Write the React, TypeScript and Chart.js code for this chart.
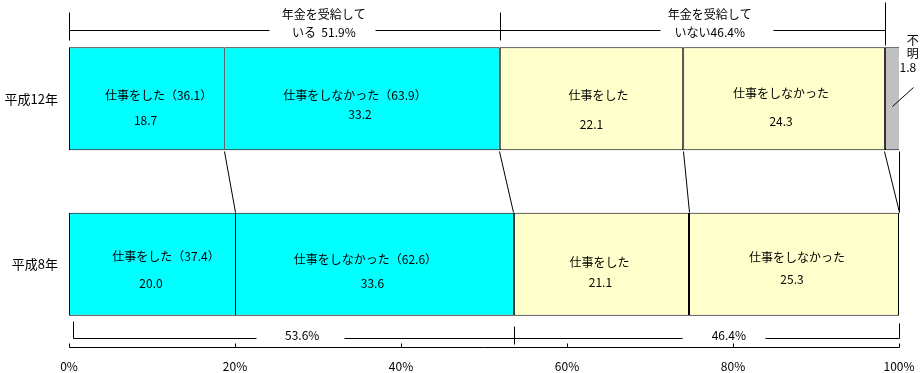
import React, { useEffect, useRef } from "react";
import { Chart, registerables } from "chart.js";

Chart.register(...registerables);

// ---- data ----
const categories = ["平成12年", "平成8年"];
const pensionWorked = [18.7, 20.0];
const pensionNotWorked = [33.2, 33.6];
const noPensionWorked = [22.1, 21.1];
const noPensionNotWorked = [24.3, 25.3];
const unknownShare = [1.8, 0];
const segmentLabels = [
  ["仕事をした（36.1）", "仕事をしなかった（63.9）", "仕事をした", "仕事をしなかった"],
  ["仕事をした（37.4）", "仕事をしなかった（62.6）", "仕事をした", "仕事をしなかった"],
];
const topGroupLabels = [
  ["年金を受給して", "いる  51.9%"],
  ["年金を受給して", "いない46.4%"],
];
const bottomGroupLabels = ["53.6%", "46.4%"];
const unknownLabels = ["不", "明", "1.8"];
const xTickValues = [0, 20, 40, 60, 80, 100];

const FONT = '"Noto Sans CJK JP", "Noto Sans", sans-serif';

const overlayPlugin = {
  id: "overlay",
  afterDatasetsDraw(chart: any) {
    const ctx = chart.ctx as CanvasRenderingContext2D;
    const xs = chart.scales.x;
    const area = chart.chartArea;
    const el = (ds: number, row: number) =>
      chart.getDatasetMeta(ds).data[row].getProps(["x", "y", "base", "height"], true);

    ctx.save();
    ctx.strokeStyle = "#000";
    ctx.fillStyle = "#000";
    ctx.lineWidth = 1;
    const line = (x1: number, y1: number, x2: number, y2: number) => {
      ctx.beginPath();
      ctx.moveTo(Math.round(x1) + 0.5, Math.round(y1) + 0.5);
      ctx.lineTo(Math.round(x2) + 0.5, Math.round(y2) + 0.5);
      ctx.stroke();
    };
    const text = (s: string, x: number, y: number, size = 12) => {
      ctx.font = `${size}px ${FONT}`;
      ctx.textAlign = "center";
      ctx.textBaseline = "middle";
      ctx.fillText(s, x, y);
    };

    const r0 = el(0, 0);
    const r1 = el(0, 1);
    const top0 = r0.y - r0.height / 2;
    const bot0 = r0.y + r0.height / 2;
    const top1 = r1.y - r1.height / 2;
    const bot1 = r1.y + r1.height / 2;

    // x axis line + inward ticks
    line(area.left, area.bottom, area.right, area.bottom);
    xTickValues.forEach((v) => {
      const px = xs.getPixelForValue(v);
      line(px, area.bottom - 4, px, area.bottom);
    });

    // connectors between the two bars
    const pairs: [number, number][] = [[0, 0], [1, 1], [2, 2], [3, 3], [4, 3]];
    pairs.forEach(([a, b]) => {
      const xa = el(a, 0).x;
      const xb = el(b, 1).x;
      line(xa - 0.5, bot0 + 1, xb - 0.5, top1 - 1);
    });

    // segment labels
    const labelOffsets = [
      [[12, -3, -1, 22], [-7, -3, -2, 16], [7, -3, 0, 26], [-3, -5, -3, 23]],
      [[14, -8, -1, 19], [-9, -5, -2, 19], [-2, -2, -1, 18], [3, -7, -2, 15]],
    ];
    [0, 1].forEach((row) => {
      for (let ds = 0; ds < 4; ds++) {
        const e = el(ds, row);
        const cx = (e.x + e.base) / 2;
        const o = labelOffsets[row][ds];
        const values = [pensionWorked, pensionNotWorked, noPensionWorked, noPensionNotWorked][ds];
        text(segmentLabels[row][ds], cx + o[0], e.y + o[1]);
        text(values[row].toFixed(1), cx + o[2], e.y + o[3]);
      }
    });

    // top bracket
    const by = top0 - 17;
    const xStart = el(0, 0).base;
    const xMid = el(1, 0).x;
    const xEnd = el(3, 0).x;
    line(xStart, top0 - 35, xStart, top0 - 7);
    line(xMid, top0 - 35, xMid, top0 - 7);
    line(xEnd, top0 - 45, xEnd, top0 - 2);
    const topCenters = [xs.getPixelForValue(30.7), xs.getPixelForValue(77.2)];
    line(xStart, by, topCenters[0] - 55, by);
    line(topCenters[0] + 51, by, topCenters[1] - 50, by);
    line(topCenters[1] + 63, by, xEnd, by);
    topGroupLabels.forEach((lines, i) => {
      text(lines[0], topCenters[i], top0 - 33);
      text(lines[1], topCenters[i], top0 - 15);
    });

    // bottom bracket
    const bby = bot1 + 22;
    const bStart = el(0, 1).base + 4;
    const bMid = el(1, 1).x;
    const bEnd = el(3, 1).x;
    line(bStart, bot1 + 5, bStart, bby);
    line(bMid, bot1 + 10, bMid, bby + 6);
    line(bEnd, bot1 + 7, bEnd, bby);
    const botCenters = [xs.getPixelForValue(28.1), xs.getPixelForValue(79.5)];
    line(bStart, bby, botCenters[0] - 46, bby);
    line(botCenters[0] + 42, bby, botCenters[1] - 47, bby);
    line(botCenters[1] + 36, bby, bEnd, bby);
    bottomGroupLabels.forEach((s, i) => text(s, botCenters[i], bby - 2));

    // unknown label
    const g = el(4, 0);
    text(unknownLabels[0], g.x + 13, top0 - 7);
    text(unknownLabels[1], g.x + 13, top0 + 6);
    text(unknownLabels[2], g.x + 8, top0 + 20);
    line(g.x + 13, top0 + 40, g.x - 8, top0 + 59);

    ctx.restore();
  },
};

export default function App() {
  const ref = useRef<HTMLCanvasElement>(null);
  useEffect(() => {
    if (!ref.current) return;
    const common = { borderColor: "#000", borderSkipped: false as const, barPercentage: 0.622, categoryPercentage: 1 };
    const chart = new Chart(ref.current, {
      type: "bar",
      data: {
        labels: categories,
        datasets: [
          { ...common, label: "受給・仕事をした", data: pensionWorked, backgroundColor: "#00FFFF", borderWidth: { left: 1, top: 1, bottom: 1, right: 0 } },
          { ...common, label: "受給・仕事をしなかった", data: pensionNotWorked, backgroundColor: "#00FFFF", borderWidth: { left: 1, top: 1, bottom: 1, right: 1 } },
          { ...common, label: "非受給・仕事をした", data: noPensionWorked, backgroundColor: "#FFFFCC", borderWidth: { left: 1, top: 1, bottom: 1, right: 1 } },
          { ...common, label: "非受給・仕事をしなかった", data: noPensionNotWorked, backgroundColor: "#FFFFCC", borderWidth: { left: 1, top: 1, bottom: 1, right: 1 } },
          { ...common, label: "不明", data: unknownShare, backgroundColor: "#C0C0C0", borderWidth: { left: 1, top: 1, bottom: 1, right: 1 } },
        ],
      } as any,
      options: {
        indexAxis: "y",
        responsive: false,
        animation: false,
        layout: { padding: { top: 16, right: 21, left: 0, bottom: 0 } },
        plugins: { legend: { display: false }, tooltip: { enabled: false } },
        scales: {
          x: {
            stacked: true,
            min: 0,
            max: 100,
            afterFit: (s: any) => { s.height = 26; s.paddingLeft = 0; s.paddingRight = 0; },
            grid: { display: false, drawTicks: false },
            border: { display: false },
            ticks: {
              stepSize: 20,
              autoSkip: false,
              maxRotation: 0,
              padding: 12,
              color: "#000",
              font: { size: 12, family: FONT },
              callback: (v: any) => v + "%",
            },
          },
          y: {
            stacked: true,
            afterFit: (s: any) => { s.width = 69; s.paddingTop = 0; s.paddingBottom = 0; },
            grid: { display: false, drawTicks: false },
            border: { display: false },
            ticks: { padding: 11, color: "#000", font: { size: 13, family: FONT } },
          },
        },
      } as any,
      plugins: [overlayPlugin],
    });
    return () => chart.destroy();
  }, []);
  return (
    <div style={{ position: "absolute", left: 0, top: 0, width: 920, height: 373, background: "#fff" }}>
      <canvas ref={ref} width={920} height={373} style={{ width: 920, height: 373, display: "block" }} />
    </div>
  );
}
